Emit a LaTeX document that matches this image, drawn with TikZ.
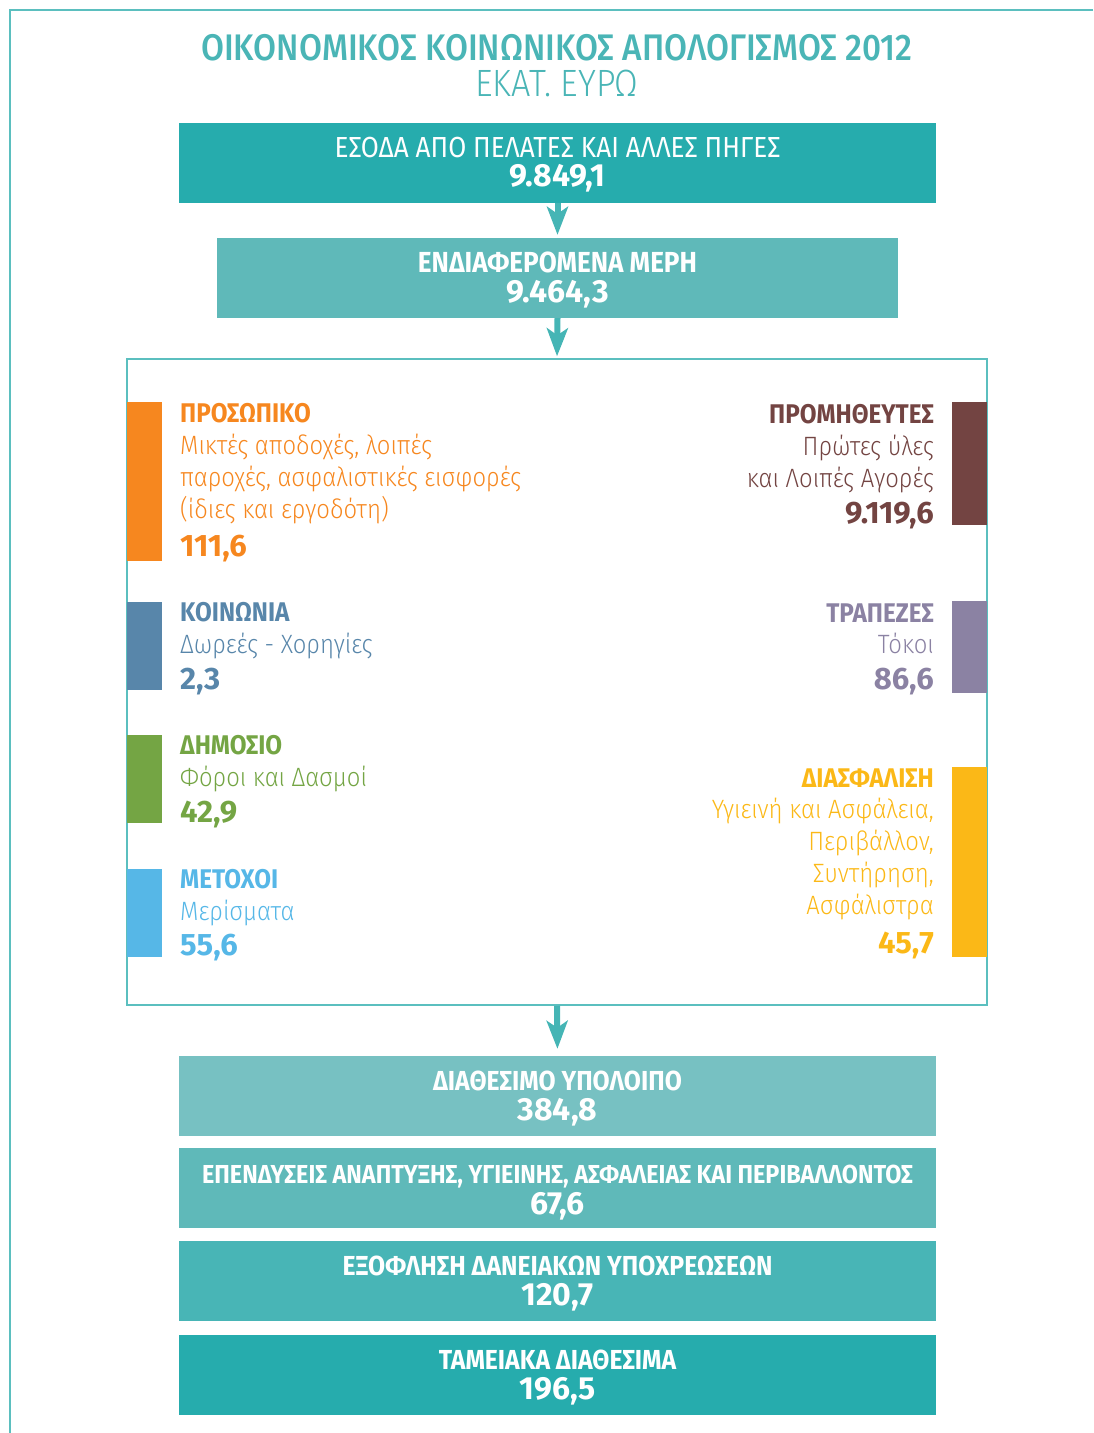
\documentclass[tikz,border=0pt]{standalone}
\usepackage{fontspec}
\setmainfont{Fira Sans}[FakeStretch=0.9]
\newfontfamily\lightfont{Fira Sans Light}[FakeStretch=0.9]
\newfontfamily\medfont{Fira Sans Medium}[FakeStretch=0.9]
\newfontfamily\numfont{Fira Sans}
\usetikzlibrary{arrows.meta}
\definecolor{tealA}{HTML}{26ACAD}
\definecolor{tealB}{HTML}{5FB9B9}
\definecolor{tealC}{HTML}{77C1C2}
\definecolor{tealD}{HTML}{48B5B6}
\definecolor{frameteal}{HTML}{5BBFBF}
\definecolor{titleteal}{HTML}{4AB5B6}
\definecolor{arrowteal}{HTML}{45B5B5}
\definecolor{stafforange}{HTML}{F6871F}
\definecolor{supplbrown}{HTML}{734442}
\definecolor{socblue}{HTML}{5886AA}
\definecolor{bankpurple}{HTML}{8B82A3}
\definecolor{pubgreen}{HTML}{74A544}
\definecolor{sharesky}{HTML}{56B7E7}
\definecolor{insyellow}{HTML}{FBB817}
\tikzset{
  flowbox/.style={inner sep=0, minimum width=757pt, minimum height=80pt},
  boxhead/.style={anchor=base, inner sep=0, text=white, font=\bfseries\fontsize{27.5}{30}\selectfont},
  boxnum/.style={anchor=base, inner sep=0, text=white, font=\numfont\bfseries\fontsize{32}{34}\selectfont},
  flowarrow/.style={draw=arrowteal, line width=6pt, -{Stealth[width=21pt, length=28pt, inset=7pt]}},
  band/.style={anchor=north west, inner sep=0, minimum width=35pt},
  cathead/.style={inner sep=0, font=\bfseries\fontsize{27}{30}\selectfont},
  catline/.style={inner sep=0, font=\lightfont\fontsize{26.5}{28}\selectfont},
  catnum/.style={inner sep=0, font=\numfont\bfseries\fontsize{31}{32}\selectfont},
  leftcat/.style={anchor=base west},
  rightcat/.style={anchor=base east}
}
\begin{document}
\begin{tikzpicture}[x=1pt,y=-1pt]
\useasboundingbox (0,0) rectangle (1093,1433);
\draw[frameteal, line width=1.5pt] (1093,10) -- (10,10) -- (10,1433);

\node[anchor=base, inner sep=0, text=titleteal, font=\medfont\fontsize{37}{40}\selectfont] (title) at (557,60) {ΟΙΚΟΝΟΜΙΚΟΣ ΚΟΙΝΩΝΙΚΟΣ ΑΠΟΛΟΓΙΣΜΟΣ 2012};
\node[anchor=base, inner sep=0, text=titleteal, font=\lightfont\fontsize{38}{40}\selectfont] (unit) at (557,96) {ΕΚΑΤ. ΕΥΡΩ};

\node[flowbox, fill=tealA] (income) at (557.5,163) {};
\node[boxhead, font=\mdseries\fontsize{29}{30}\selectfont] (incomeT) at (557.5,157) {ΕΣΟΔΑ ΑΠΟ ΠΕΛΑΤΕΣ ΚΑΙ ΑΛΛΕΣ ΠΗΓΕΣ};
\node[boxnum] (incomeN) at (557.5,186) {9.849,1};

\node[flowbox, fill=tealB, minimum width=681pt] (stake) at (557.5,278) {};
\node[boxhead, font=\bfseries\fontsize{29}{30}\selectfont] (stakeT) at (557.5,272) {ΕΝΔΙΑΦΕΡΟΜΕΝΑ ΜΕΡΗ};
\node[boxnum] (stakeN) at (557.5,302) {9.464,3};

\node[draw=frameteal, line width=1.5pt, inner sep=0, minimum width=860pt, minimum height=646pt] (alloc) at (557,682) {};

\draw[flowarrow, shorten >=3pt] (income.south) -- (stake.north);
\draw[flowarrow, shorten >=2pt] (stake.south) -- (alloc.north);

\node[band, fill=stafforange, minimum height=159pt] (staffB) at (127,402) {};
\node[cathead, leftcat, text=stafforange] (staffH) at (180,422) {ΠΡΟΣΩΠΙΚΟ};
\node[catline, leftcat, text=stafforange] (staffL1) at (180,454) {Μικτές αποδοχές, λοιπές};
\node[catline, leftcat, text=stafforange] (staffL2) at (180,486) {παροχές, ασφαλιστικές εισφορές};
\node[catline, leftcat, text=stafforange] (staffL3) at (180,518) {(ίδιες και εργοδότη)};
\node[catnum, leftcat, text=stafforange] (staffN) at (180,556) {111,6};

\node[band, fill=socblue, minimum height=88pt] (socB) at (127,602) {};
\node[cathead, leftcat, text=socblue] (socH) at (180,621) {ΚΟΙΝΩΝΙΑ};
\node[catline, leftcat, text=socblue] (socL1) at (180,653) {Δωρεές - Χορηγίες};
\node[catnum, leftcat, text=socblue] (socN) at (180,689) {2,3};

\node[band, fill=pubgreen, minimum height=88pt] (pubB) at (127,735) {};
\node[cathead, leftcat, text=pubgreen] (pubH) at (180,754) {ΔΗΜΟΣΙΟ};
\node[catline, leftcat, text=pubgreen] (pubL1) at (180,786) {Φόροι και Δασμοί};
\node[catnum, leftcat, text=pubgreen] (pubN) at (180,822) {42,9};

\node[band, fill=sharesky, minimum height=88pt] (shareB) at (127,869) {};
\node[cathead, leftcat, text=sharesky] (shareH) at (180,888) {ΜΕΤΟΧΟΙ};
\node[catline, leftcat, text=sharesky] (shareL1) at (180,920) {Μερίσματα};
\node[catnum, leftcat, text=sharesky] (shareN) at (180,955) {55,6};

\node[band, fill=supplbrown, minimum height=123pt] (supplB) at (952,402) {};
\node[cathead, rightcat, text=supplbrown] (supplH) at (934,423) {ΠΡΟΜΗΘΕΥΤΕΣ};
\node[catline, rightcat, text=supplbrown] (supplL1) at (934,455) {Πρώτες ύλες};
\node[catline, rightcat, text=supplbrown] (supplL2) at (934,487) {και Λοιπές Αγορές};
\node[catnum, rightcat, text=supplbrown] (supplN) at (934,523) {9.119,6};

\node[band, fill=bankpurple, minimum height=92pt] (bankB) at (952,601) {};
\node[cathead, rightcat, text=bankpurple] (bankH) at (934,622) {ΤΡΑΠΕΖΕΣ};
\node[catline, rightcat, text=bankpurple] (bankL1) at (934,653) {Τόκοι};
\node[catnum, rightcat, text=bankpurple] (bankN) at (934,689) {86,6};

\node[band, fill=insyellow, minimum height=190pt] (insB) at (952,767) {};
\node[cathead, rightcat, text=insyellow] (insH) at (934,787) {ΔΙΑΣΦΑΛΙΣΗ};
\node[catline, rightcat, text=insyellow] (insL1) at (934,818) {Υγιεινή και Ασφάλεια,};
\node[catline, rightcat, text=insyellow] (insL2) at (934,850) {Περιβάλλον,};
\node[catline, rightcat, text=insyellow] (insL3) at (934,882) {Συντήρηση,};
\node[catline, rightcat, text=insyellow] (insL4) at (934,914) {Ασφάλιστρα};
\node[catnum, rightcat, text=insyellow] (insN) at (934,953) {45,7};

\node[flowbox, fill=tealC] (balance) at (557.5,1096) {};
\node[boxhead] (balanceT) at (557.5,1090) {ΔΙΑΘΕΣΙΜΟ ΥΠΟΛΟΙΠΟ};
\node[boxnum] (balanceN) at (557.5,1120) {384,8};

\draw[flowarrow, shorten >=7pt] (alloc.south) -- (balance.north);

\node[flowbox, fill=tealB] (invest) at (557.5,1188) {};
\node[boxhead, font=\bfseries\fontsize{26}{30}\selectfont] (investT) at (557.5,1183) {ΕΠΕΝΔΥΣΕΙΣ ΑΝΑΠΤΥΞΗΣ, ΥΓΙΕΙΝΗΣ, ΑΣΦΑΛΕΙΑΣ ΚΑΙ ΠΕΡΙΒΑΛΛΟΝΤΟΣ};
\node[boxnum] (investN) at (557.5,1214) {67,6};

\node[flowbox, fill=tealD] (loans) at (557.5,1281) {};
\node[boxhead] (loansT) at (557.5,1275) {ΕΞΟΦΛΗΣΗ ΔΑΝΕΙΑΚΩΝ ΥΠΟΧΡΕΩΣΕΩΝ};
\node[boxnum] (loansN) at (557.5,1305) {120,7};

\node[flowbox, fill=tealA] (cash) at (557.5,1375) {};
\node[boxhead] (cashT) at (557.5,1369) {ΤΑΜΕΙΑΚΑ ΔΙΑΘΕΣΙΜΑ};
\node[boxnum] (cashN) at (557.5,1399) {196,5};
\end{tikzpicture}
\end{document}
